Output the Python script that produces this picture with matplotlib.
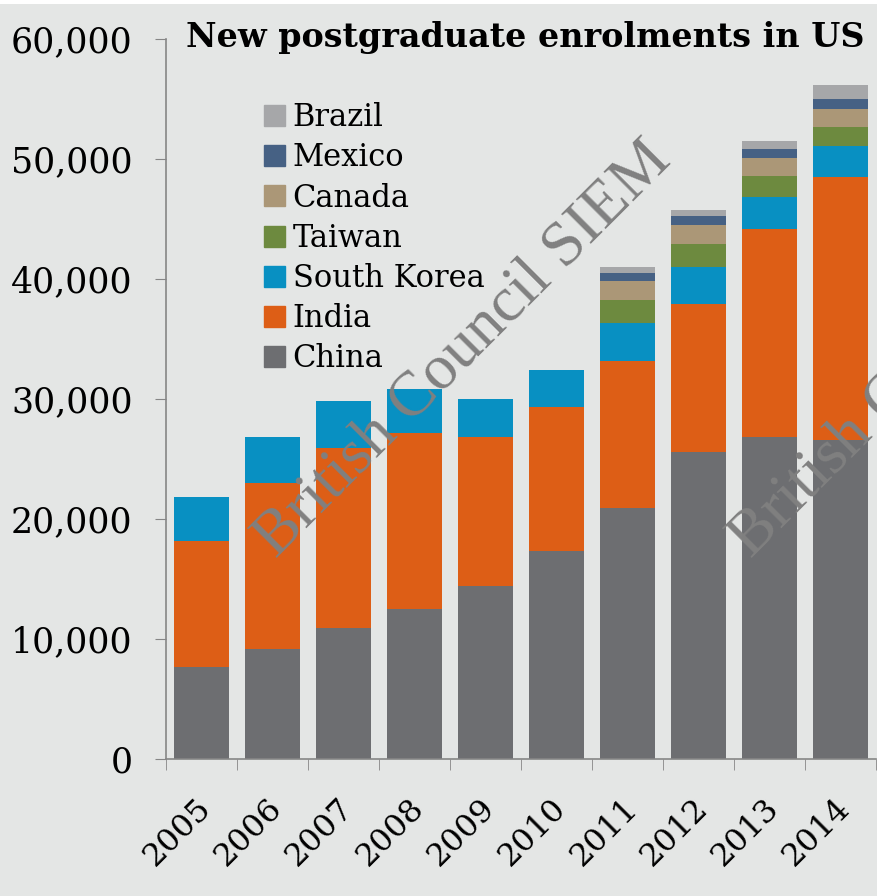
import numpy as np
import matplotlib.pyplot as plt
from matplotlib.patches import Rectangle, Patch

years = ["2005", "2006", "2007", "2008", "2009", "2010", "2011", "2012", "2013", "2014"]

china = [7670, 9170, 10890, 12470, 14420, 17310, 20920, 25580, 26860, 26580]
india = [10500, 13860, 15030, 14670, 12390, 12000, 12250, 12360, 17280, 21950]
south_korea = [3660, 3800, 3890, 3720, 3220, 3110, 3160, 3060, 2720, 2530]
taiwan = [0, 0, 0, 0, 0, 0, 1950, 1920, 1720, 1630]
canada = [0, 0, 0, 0, 0, 0, 1550, 1580, 1530, 1480]
mexico = [0, 0, 0, 0, 0, 0, 700, 750, 750, 830]
brazil = [0, 0, 0, 0, 0, 0, 440, 530, 610, 1140]

series = [
    ("China", china, "#6d6e71"),
    ("India", india, "#dd5e16"),
    ("South Korea", south_korea, "#0890c2"),
    ("Taiwan", taiwan, "#6d8a3f"),
    ("Canada", canada, "#ab9777"),
    ("Mexico", mexico, "#466184"),
    ("Brazil", brazil, "#a6a7a9"),
]

bg = "#e4e6e5"
serif = "DejaVu Serif"

W, H = 877, 896
fig = plt.figure(figsize=(W / 100, H / 100), dpi=100, facecolor="white")
fig.patches.append(Rectangle((0, 0), 1, (H - 4) / H, transform=fig.transFigure,
                             facecolor=bg, edgecolor="none", zorder=-10))

ax = fig.add_axes([166 / W, (H - 759) / H, 710 / W, 720 / H])
ax.set_facecolor(bg)

x = np.arange(len(years))
bottom = np.zeros(len(years))
for name, vals, col in series:
    vals = np.array(vals, dtype=float)
    ax.bar(x, vals, 0.77, bottom=bottom, color=col, label=name, zorder=2)
    bottom += vals

ax.set_xlim(-0.5, len(years) - 0.5)
ax.set_ylim(0, 60000)
ax.set_yticks(np.arange(0, 60001, 10000))
ax.set_yticklabels([f"{v:,}" for v in range(0, 60001, 10000)],
                   fontfamily=serif, fontsize=25)
ax.tick_params(axis="y", length=8, color="#868686", pad=16)

# year labels sit a little left of the bar centres
ax.set_xticks(x - 0.08)
ax.set_xticklabels(years, rotation=45, ha="right", rotation_mode="anchor",
                   fontfamily=serif, fontsize=23)
ax.tick_params(axis="x", which="major", length=0, pad=24)
ax.set_xticks(np.arange(-0.5, len(years), 1), minor=True)
ax.tick_params(axis="x", which="minor", length=8, color="#868686")

for s in ["top", "right"]:
    ax.spines[s].set_visible(False)
for s in ["left", "bottom"]:
    ax.spines[s].set_color("#868686")
    ax.spines[s].set_linewidth(1.2)

fig.text(525 / W, 1 - 38 / H, "New postgraduate enrolments in US",
         ha="center", va="center", fontfamily=serif, fontweight="bold",
         fontsize=24)

handles = [Patch(color=col, label=name) for name, _, col in series][::-1]
ax.legend(handles=handles, loc="upper left",
          bbox_to_anchor=(252 / W, 1 - 90 / H), bbox_transform=fig.transFigure,
          frameon=False, prop={"family": serif, "size": 22},
          handlelength=0.68, handleheight=0.68, handletextpad=0.25,
          labelspacing=0.3, borderaxespad=0)

# watermark
for dx in [0, 475]:
    fig.text((463 + dx) / W, 1 - 350 / H, "British Council SIEM",
             rotation=45, rotation_mode="anchor", ha="center", va="center",
             fontfamily="Liberation Serif", fontsize=46, color="#808080",
             zorder=5)

fig.savefig("out.png", dpi=100, facecolor=fig.get_facecolor())
